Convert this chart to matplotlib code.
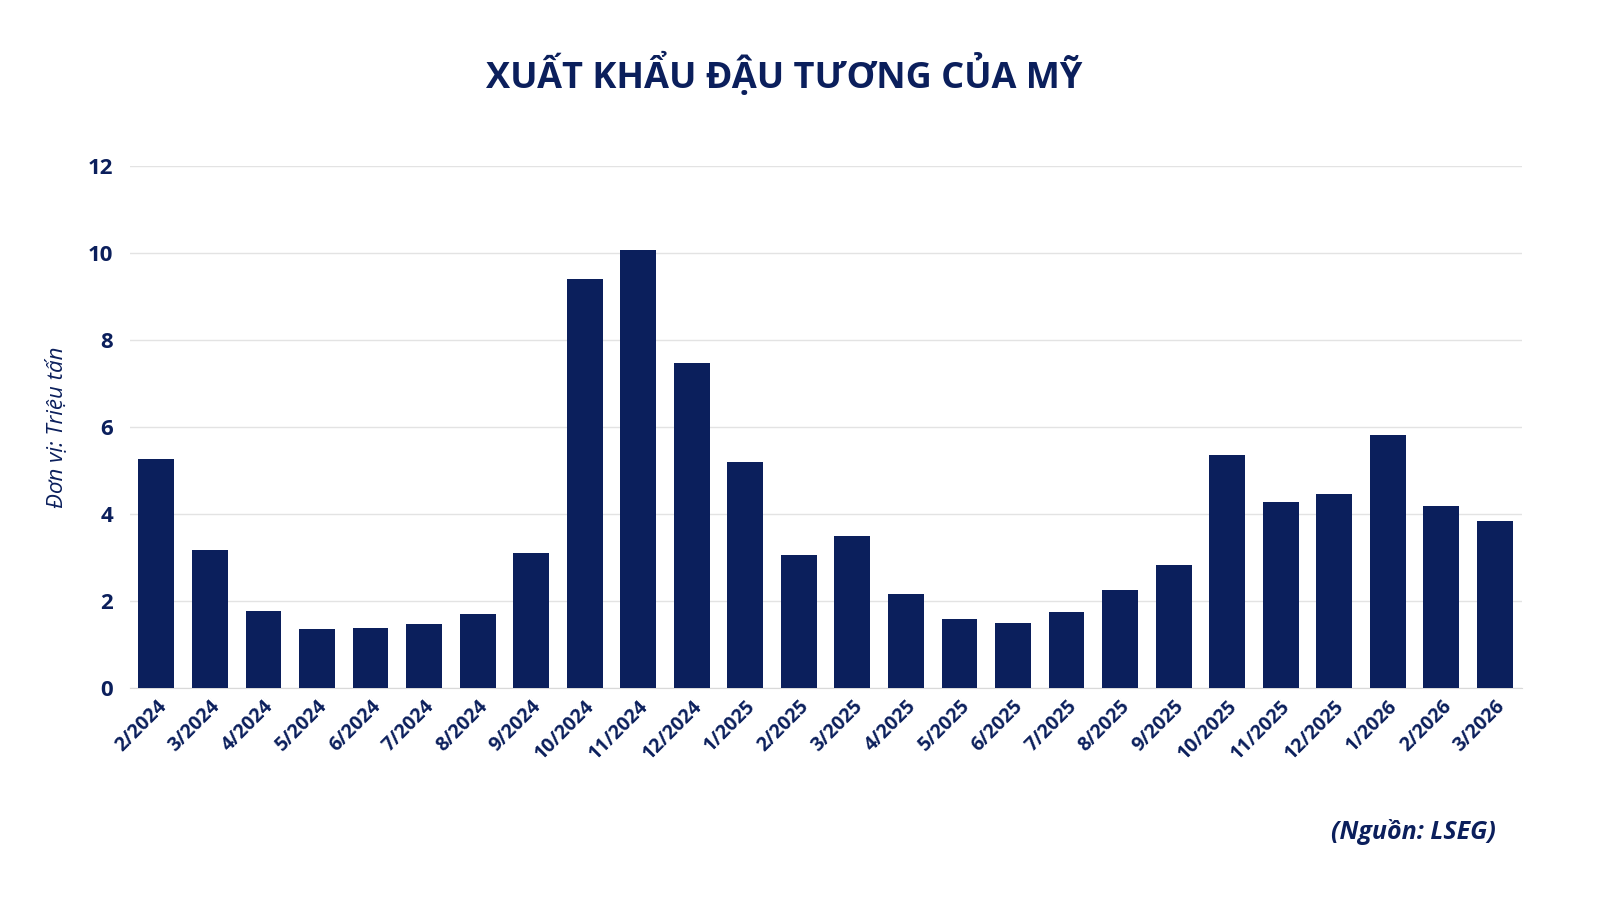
import matplotlib
matplotlib.use("Agg")
import matplotlib.pyplot as plt

# ---------- DATA ----------
months = ["2/2024", "3/2024", "4/2024", "5/2024", "6/2024", "7/2024", "8/2024", "9/2024",
          "10/2024", "11/2024", "12/2024", "1/2025", "2/2025", "3/2025", "4/2025", "5/2025",
          "6/2025", "7/2025", "8/2025", "9/2025", "10/2025", "11/2025", "12/2025", "1/2026",
          "2/2026", "3/2026"]
exports = [5.26, 3.17, 1.77, 1.36, 1.38, 1.47, 1.70, 3.10, 9.40, 10.07, 7.47, 5.20, 3.06,
           3.49, 2.16, 1.59, 1.49, 1.75, 2.25, 2.83, 5.36, 4.28, 4.46, 5.82, 4.18, 3.84]
yticks = [0, 2, 4, 6, 8, 10, 12]

NAVY = "#0b1f5c"
plt.rcParams["font.family"] = ["Open Sans", "DejaVu Sans"]

fig = plt.figure(figsize=(16, 9), dpi=100)
ax = fig.add_axes([0.081, 0.2356, 0.870, 0.58])

ax.bar(range(len(months)), exports, width=0.67, color=NAVY, zorder=3)
ax.set_xlim(-0.5, len(months) - 0.5)
ax.set_ylim(0, 12)
ax.set_yticks(yticks)
ax.set_yticklabels([str(t) for t in yticks], fontsize=16, fontweight="bold", color=NAVY)
ax.set_xticks(range(len(months)))
ax.set_xticklabels(months, rotation=45, ha="right", rotation_mode="anchor",
                   fontsize=14, fontweight="bold", color=NAVY)
ax.tick_params(length=0, pad=12)
ax.tick_params(axis="x", pad=6)
ax.grid(axis="y", color="#e3e3e3", linewidth=1, zorder=0)
for s in ["top", "right", "left"]:
    ax.spines[s].set_visible(False)
ax.spines["bottom"].set_color("#d9d9d9")

ax.set_ylabel("Đơn vị: Triệu tấn", fontsize=16, style="italic", color=NAVY, labelpad=14)
fig.text(0.49, 0.917, "XUẤT KHẨU ĐẬU TƯƠNG CỦA MỸ", ha="center", va="center",
         fontsize=26, fontweight="bold", color=NAVY)
fig.text(0.935, 0.076, "(Nguồn: LSEG)", ha="right", va="center",
         fontsize=18, fontweight="bold", style="italic", color=NAVY)

fig.savefig("out.png", dpi=100)
